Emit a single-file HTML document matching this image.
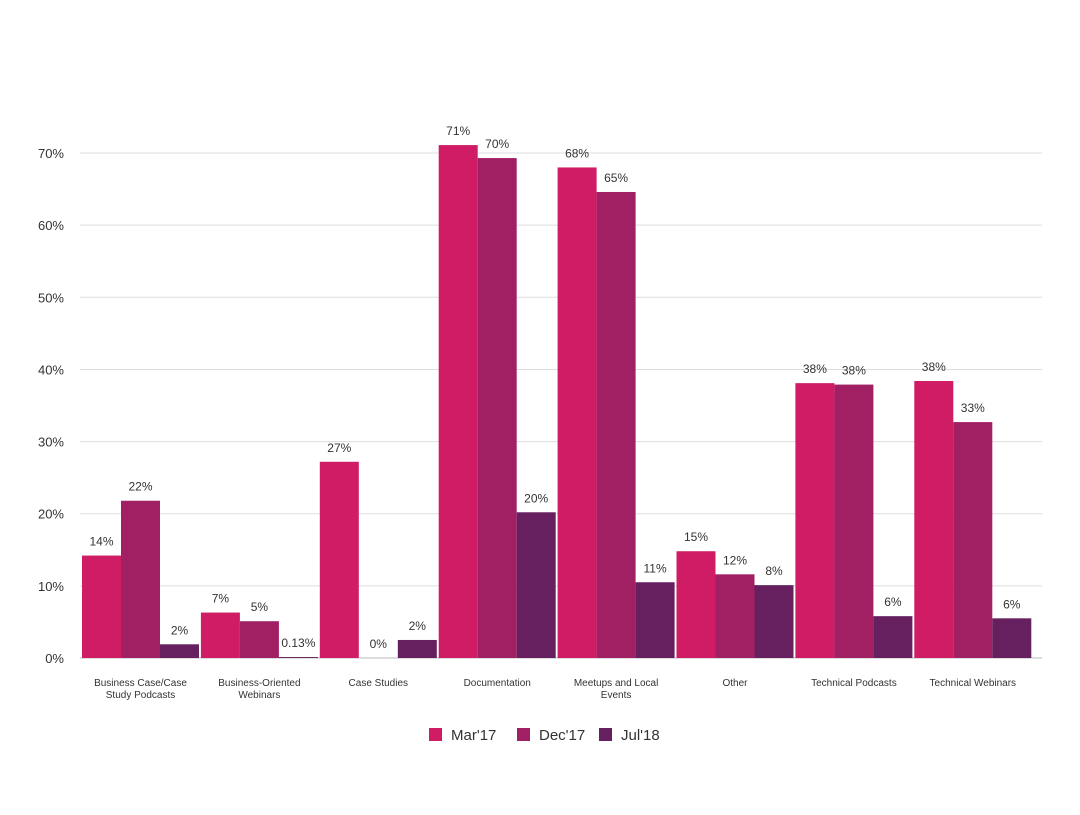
<!DOCTYPE html>
<html><head><meta charset="utf-8"><style>
body{margin:0;background:#fff;font-family:"Liberation Sans",sans-serif;}
svg text{font-family:"Liberation Sans",sans-serif;fill:#333;}
</style></head><body>
<svg id="chart" width="1080" height="810" xmlns="http://www.w3.org/2000/svg"></svg>
<script>
const categories=[["Business Case/Case","Study Podcasts"],["Business-Oriented","Webinars"],["Case Studies"],["Documentation"],["Meetups and Local","Events"],["Other"],["Technical Podcasts"],["Technical Webinars"]];
const seriesNames=["Mar'17","Dec'17","Jul'18"];
const mar17=[14.2,6.3,27.2,71.1,68,14.8,38.1,38.4];
const dec17=[21.8,5.1,0,69.3,64.6,11.6,37.9,32.7];
const jul18=[1.9,0.13,2.5,20.2,10.5,10.1,5.8,5.5];
const mar17Labels=["14%","7%","27%","71%","68%","15%","38%","38%"];
const dec17Labels=["22%","5%","0%","70%","65%","12%","38%","33%"];
const jul18Labels=["2%","0.13%","2%","20%","11%","8%","6%","6%"];
const ticks=[0,10,20,30,40,50,60,70];
const colors=["#d01c65","#a11f63","#662060"];
const svg=document.getElementById('chart');
const NS="http://www.w3.org/2000/svg";
const x0=80,x1=1042,y0=658,pxPer=7.214;
const gStart=82,band=118.9,bw=39;
function y(v){return y0-v*pxPer;}
function bx(i,s){return gStart+i*band+s*bw;}
function mk(t,a,p){const e=document.createElementNS(NS,t);for(const k in a)e.setAttribute(k,a[k]);(p||svg).appendChild(e);return e;}
ticks.forEach(t=>{
 const l=mk('line',{x1:x0,x2:x1,y1:y(t),y2:y(t),stroke:t===0?'#bbb':'#ddd','stroke-width':1});
 
 
 const tx=mk('text',{x:64,y:y(t)+5,'font-size':13,'text-anchor':'end'});tx.textContent=t+'%';
 
 
});
const series=[mar17,dec17,jul18],labels=[mar17Labels,dec17Labels,jul18Labels];
categories.forEach((c,i)=>{
 series.forEach((d,s)=>{
  const v=d[i];
  const r=mk('rect',{x:bx(i,s),y:y(v),width:bw,height:v*pxPer,fill:colors[s]});
  
  
  const t=mk('text',{x:bx(i,s)+bw/2,y:y(v)-10,'font-size':12,'text-anchor':'middle'});t.textContent=labels[s][i];
  
  
 });
 const cx=bx(i,0)+bw*1.5;
 const ct=mk('text',{x:cx,y:686,'font-size':10,'text-anchor':'middle'});
 
 
 c.forEach((ln,k)=>{const ts=mk('tspan',{x:cx,dy:k?12:0},ct);ts.textContent=ln;});
});
const lx=[429,517,599];
seriesNames.forEach((n,s)=>{
 const r=mk('rect',{x:lx[s],y:728,width:13,height:13,fill:colors[s]});
 
 
 const t=mk('text',{x:lx[s]+22,y:740,'font-size':15});t.textContent=n;
 
 
});
</script>
</body></html>
